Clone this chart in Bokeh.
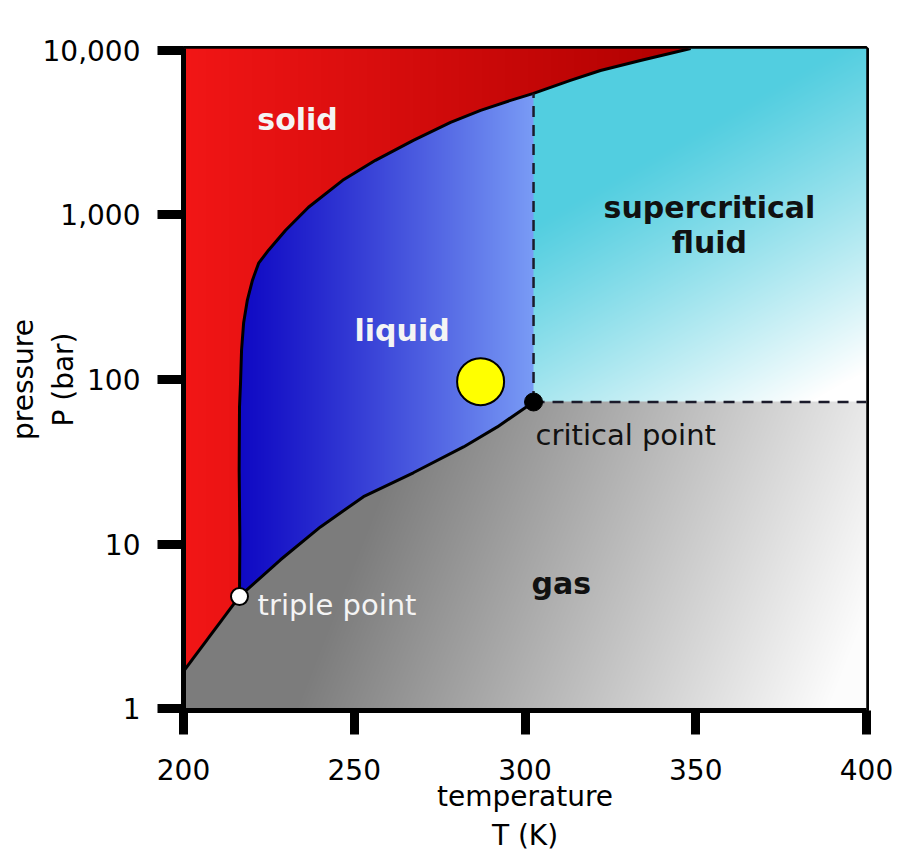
import numpy as np
from bokeh.plotting import figure
from bokeh.models import Range1d, FixedTicker
from bokeh.core.properties import value
from bokeh.embed import file_html
from bokeh.resources import INLINE

# ---------------- data (temperature in K, pressure in bar) ----------------
melt_T = [216.4, 216.5, 216.3, 216.4, 216.7, 217.0, 217.6, 218.7, 220.2, 222.0, 224.9,
          229.9, 236.6, 246.6, 256.2, 267.3, 278.2, 287.0, 295.8, 302.5, 313.3, 322.1,
          333.8, 348.5]
melt_P = [4.8, 10.6, 28.2, 68.1, 95.2, 151.1, 220.3, 303.8, 401.8, 509.5, 611.0,
          808.0, 1114, 1625, 2149, 2843, 3656, 4324, 4973, 5483, 6575, 7562,
          8696, 10283]
vap_T = [216.4, 228.4, 240.1, 252.7, 267.3, 282.0, 291.9, 302.5]
vap_P = [4.8, 8.02, 12.7, 19.4, 27.1, 38.9, 51.5, 73.0]
sub_T = [200.0, 216.4]
sub_P = [1.68, 4.8]
triple_T, triple_P = 216.4, 4.8
crit_T, crit_P = 302.5, 73.0
marker_T, marker_P = 287.0, 97.0

x_ticks = [200, 250, 300, 350, 400]
p_ticks = [1, 10, 100, 1000, 10000]
p_tick_labels = ["1", "10", "100", "1,000", "10,000"]

bold_labels = ["solid", "liquid", "supercritical", "fluid", "gas"]
bold_T = [233.4, 264.0, 354.0, 354.0, 310.6]
bold_P = [3802, 199.5, 1114, 684, 5.74]
bold_colors = ["#f4f4f4", "#f4f4f4", "#111111", "#111111", "#111111"]

point_labels = ["critical point", "triple point"]
point_label_T = [303.1, 221.7]
point_label_P = [46.0, 4.28]
point_label_colors = ["#111111", "#f4f4f4"]

x_title = "temperature\nT (K)"
y_title = "pressure\nP (bar)"

FONT = "DejaVu Sans"

# ---------------- geometry of the frame ----------------
T_lo, T_hi = 200.0, 400.0
L_lo, L_hi = -0.0121, 4.0121

Lm = np.log10(melt_P)
Lv = np.log10(vap_P)
Ls = np.log10(sub_P)
Ltp = np.log10(triple_P)
Lc = np.log10(crit_P)

# ---------------- background image (coloured phase regions) ----------------
nx, ny = 683, 663
Tg = T_lo + (np.arange(nx) + 0.5) * (T_hi - T_lo) / nx
Lg = L_lo + (np.arange(ny) + 0.5) * (L_hi - L_lo) / ny
TT, LL = np.meshgrid(Tg, Lg)

Tm_at = np.interp(LL, Lm, melt_T)
Ls_at = np.interp(TT, sub_T, Ls)
Lv_at = np.interp(TT, vap_T, Lv)

solid = ((LL >= Ltp) & (TT < Tm_at)) | ((LL < Ltp) & (TT < triple_T) & (LL > Ls_at))
rest = ~solid
liquid = rest & (TT <= crit_T) & (LL > Lv_at)
superc = rest & (TT > crit_T) & (LL >= Lc)
gas = rest & ~liquid & ~superc

rgb = np.zeros((ny, nx, 3), dtype=float)

# solid: horizontal red gradient
f = np.clip((TT - 200.0) / 148.0, 0, 1)[..., None]
c0 = np.array([242, 22, 22.0]); c1 = np.array([176, 0, 0.0])
rgb = np.where(solid[..., None], c0 * (1 - f) + c1 * f, rgb)

# liquid: horizontal blue gradient
f = np.clip((TT - triple_T) / (crit_T - triple_T), 0, 1)[..., None] ** 1.15
c0 = np.array([16, 10, 196.0]); c1 = np.array([122, 156, 246.0])
rgb = np.where(liquid[..., None], c0 * (1 - f) + c1 * f, rgb)

# supercritical: cyan fading to white towards lower right
fx = (TT - crit_T) / (T_hi - crit_T)
fy = (L_hi - LL) / (L_hi - Lc)
s = 0.35 * fx + 0.65 * fy
t = np.clip((s - 0.32) / 0.62, 0, 1)[..., None] ** 1.1
cc = np.array([82, 206, 224.0]); cw = np.array([255, 255, 255.0])
rgb = np.where(superc[..., None], cc * (1 - t) + cw * t, rgb)

# gas: diagonal grey gradient
px = 183 + (TT - T_lo) / (T_hi - T_lo) * 683
py = 48 + (L_hi - LL) / (L_hi - L_lo) * 663
v = np.clip(140 + 0.24 * (px - 453) + 0.095 * (py - 473), 124, 252)[..., None]
rgb = np.where(gas[..., None], np.repeat(v, 3, axis=2), rgb)

img = np.empty((ny, nx), dtype=np.uint32)
view = img.view(dtype=np.uint8).reshape((ny, nx, 4))
view[..., :3] = np.clip(rgb, 0, 255).astype(np.uint8)
view[..., 3] = 255

# ---------------- figure ----------------
p = figure(width=897, height=855, output_backend="svg", toolbar_location=None,
           x_range=Range1d(T_lo, T_hi), y_range=Range1d(L_lo, L_hi),
           min_border_left=183, min_border_right=31, min_border_top=48,
           min_border_bottom=144)
p.background_fill_color = "white"
p.border_fill_color = "white"
p.outline_line_color = "black"
p.outline_line_width = 5
p.grid.visible = False

p.image_rgba(image=[img], x=T_lo, y=L_lo, dw=T_hi - T_lo, dh=L_hi - L_lo, level="image")

# phase boundaries
p.line(melt_T, Lm, line_color="black", line_width=3, line_join="round")
p.line(vap_T, Lv, line_color="black", line_width=3, line_join="round")
p.line(sub_T, Ls, line_color="black", line_width=3)

# dashed critical lines
sel = np.array(melt_T) > 225
L_top = float(np.interp(crit_T, np.array(melt_T)[sel], Lm[sel]))
p.line([crit_T, crit_T], [Lc, L_top], line_color="#1b1b2b", line_width=2.5, line_dash="11 8")
p.line([crit_T, T_hi], [Lc, Lc], line_color="#1b1b2b", line_width=2.5, line_dash="11 8")

# points
p.scatter([triple_T], [Ltp], size=17, fill_color="white", line_color="black", line_width=2)
p.scatter([crit_T], [Lc], size=18, fill_color="black", line_color="black", line_width=1)
p.scatter([marker_T], [np.log10(marker_P)], size=47, fill_color="#ffff00",
          line_color="black", line_width=2)

# region labels
p.text(x=bold_T, y=list(np.log10(bold_P)), text=bold_labels, text_color=bold_colors,
       text_font=value(FONT), text_font_style="bold", text_font_size="30px",
       text_align="center", text_baseline="middle")
p.text(x=point_label_T, y=list(np.log10(point_label_P)), text=point_labels,
       text_color=point_label_colors, text_font=value(FONT), text_font_size="29px",
       text_align="left", text_baseline="middle")

# axes
for ax in (p.xaxis[0], p.yaxis[0]):
    ax.axis_line_width = 5
    ax.axis_line_color = "black"
    ax.major_tick_line_width = 9
    ax.major_tick_line_color = "black"
    ax.major_tick_line_cap = "butt"
    ax.major_tick_in = 0
    ax.minor_tick_line_color = None
    ax.major_label_text_font = FONT
    ax.major_label_text_font_size = "28px"
    ax.major_label_text_color = "black"
    ax.axis_label_text_font = FONT
    ax.axis_label_text_font_size = "28px"
    ax.axis_label_text_font_style = "normal"
    ax.axis_label_text_color = "black"
    ax.axis_label_text_align = "center"

p.xaxis.ticker = FixedTicker(ticks=x_ticks)
p.xaxis.major_tick_out = 24
p.xaxis.major_label_standoff = 24
p.xaxis.axis_label = x_title
p.xaxis.axis_label_standoff = -3

y_tick_pos = [int(round(np.log10(v_))) for v_ in p_ticks]
p.yaxis.ticker = FixedTicker(ticks=y_tick_pos)
p.yaxis.major_label_overrides = {k: lab for k, lab in zip(y_tick_pos, p_tick_labels)}
p.yaxis.major_tick_out = 26
p.yaxis.major_label_standoff = 17
p.yaxis.axis_label = y_title
p.yaxis.axis_label_standoff = -40

open("out.html", "w").write(file_html(p, INLINE))
